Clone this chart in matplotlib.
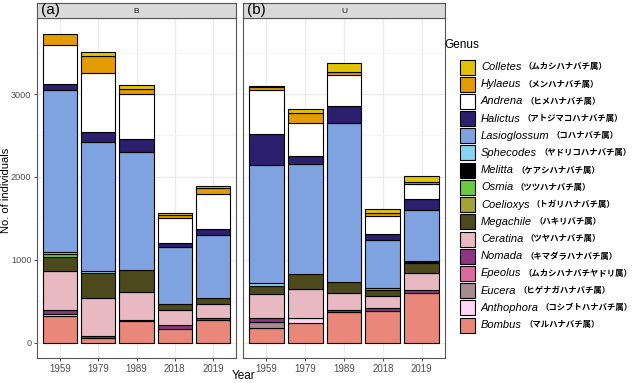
import matplotlib
matplotlib.use("Agg")
import matplotlib.pyplot as plt
from matplotlib.patches import Rectangle
import numpy as np

plt.rcParams['font.family'] = ['Liberation Sans', 'DejaVu Sans']

years = ['1959', '1979', '1989', '2018', '2019']
panels = ['B', 'U']
panel_tags = ['(a)', '(b)']

# counts per genus: [panel B values, panel U values], one value per year
bombus = [[325, 60, 255, 170, 275], [180, 240, 372, 384, 600]]
anthophora = [[25, 0, 0, 0, 0], [0, 55, 0, 0, 0]]
eucera = [[0, 0, 0, 0, 0], [72, 0, 0, 0, 0]]
epeolus = [[0, 0, 0, 0, 0], [0, 0, 0, 0, 0]]
nomada = [[40, 15, 20, 45, 25], [48, 0, 20, 36, 36]]
ceratina = [[470, 465, 337, 180, 168], [288, 350, 208, 144, 204]]
megachile = [[168, 300, 264, 72, 72], [96, 180, 132, 65, 120]]
coelioxys = [[0, 0, 0, 0, 0], [0, 0, 0, 0, 0]]
osmia = [[40, 0, 0, 0, 0], [0, 0, 0, 25, 0]]
melitta = [[0, 0, 0, 0, 0], [0, 0, 0, 0, 20]]
sphecodes = [[25, 25, 0, 0, 0], [35, 0, 0, 0, 0]]
lasioglossum = [[1953, 1559, 1428, 684, 756], [1429, 1335, 1920, 582, 616]]
halictus = [[80, 120, 156, 48, 72], [372, 96, 204, 72, 132]]
andrena = [[470, 708, 540, 300, 420], [528, 396, 372, 216, 192]]
hylaeus = [[130, 204, 60, 45, 72], [36, 120, 36, 36, 24]]
colletes = [[0, 48, 48, 25, 36], [12, 48, 108, 48, 72]]

# stacking order, bottom -> top
genera = ['Bombus', 'Anthophora', 'Eucera', 'Epeolus', 'Nomada', 'Ceratina',
          'Megachile', 'Coelioxys', 'Osmia', 'Melitta', 'Sphecodes',
          'Lasioglossum', 'Halictus', 'Andrena', 'Hylaeus', 'Colletes']
jp_names = ['（マルハナバチ属）', '（コシブトハナバチ属）', '（ヒゲナガハナバチ属）',
            '（ムカシハナバチヤドリ属）', '（キマダラハナバチ属）', '（ツヤハナバチ属）',
            '（ハキリバチ属）', '（トガリハナバチ属）', '（ツツハナバチ属）',
            '（ケアシハナバチ属）', '（ヤドリコハナバチ属）', '（コハナバチ属）',
            '（アトジマコハナバチ属）', '（ヒメハナバチ属）', '（メンハナバチ属）',
            '（ムカシハナバチ属）']
colours = ['#E8877A', '#FFD4F2', '#A88A92', '#DD6A9E', '#8C3583', '#E8B9C2',
           '#4C4A1C', '#A3A235', '#6ACB40', '#000000', '#88D3F0',
           '#7FA2E0', '#2C1F6E', '#FFFFFF', '#E39C00', '#E0C400']
series = [bombus, anthophora, eucera, epeolus, nomada, ceratina, megachile,
          coelioxys, osmia, melitta, sphecodes, lasioglossum, halictus,
          andrena, hylaeus, colletes]

W, H = 640, 383
fig = plt.figure(figsize=(6.4, 3.83), dpi=100)

panel_x = [(37, 236), (243, 445)]
p_bottom, p_top = 358, 18
strip_top = 3

x = np.arange(1, 6)
for p, (x0, x1) in enumerate(panel_x):
    ax = fig.add_axes([x0 / W, 1 - p_bottom / H, (x1 - x0) / W, (p_bottom - p_top) / H])
    bottom = np.zeros(5)
    for vals, col in zip(series, colours):
        v = np.array(vals[p], dtype=float)
        m = v > 0
        ax.bar(x[m], v[m], 0.9, bottom=bottom[m], color=col,
               edgecolor='black', linewidth=0.8, zorder=3)
        bottom += v
    ax.set_xlim(0.4, 5.6)
    ax.set_ylim(-186, 3918)
    ax.set_xticks(x)
    ax.set_xticklabels(years, fontsize=7, color='#4D4D4D')
    ax.set_yticks([0, 1000, 2000, 3000])
    ax.set_yticks([500, 1500, 2500, 3500], minor=True)
    ax.grid(True, which='major', color='#EBEBEB', linewidth=0.9, zorder=0)
    ax.grid(True, which='minor', axis='y', color='#F2F2F2', linewidth=0.5, zorder=0)
    ax.tick_params(axis='both', length=2.5, width=0.6, color='#333333', pad=1.5)
    ax.tick_params(axis='y', which='minor', length=0)
    if p == 0:
        ax.set_yticklabels(['0', '1000', '2000', '3000'], fontsize=6.6, color='#4D4D4D')
    else:
        ax.set_yticklabels([])
        ax.tick_params(axis='y', length=0)
    for s in ax.spines.values():
        s.set_color('#555555')
        s.set_linewidth(0.8)

    sax = fig.add_axes([x0 / W, 1 - p_top / H, (x1 - x0) / W, (p_top - strip_top) / H])
    sax.set_facecolor('#D9D9D9')
    sax.set_xticks([])
    sax.set_yticks([])
    for s in sax.spines.values():
        s.set_color('#555555')
        s.set_linewidth(0.8)
    sax.text(0.5, 0.45, panels[p], ha='center', va='center', fontsize=6,
             color='#1A1A1A', transform=sax.transAxes)
    fig.text((x0 + 4) / W, 1 - 10 / H, panel_tags[p], ha='left', va='center',
             fontsize=11, color='black')

fig.text(6.5 / W, 1 - 190 / H, 'No. of individuals', rotation=90,
         ha='center', va='center', fontsize=8)
fig.text(244 / W, 1 - 376 / H, 'Year', ha='center', va='center', fontsize=8.5)

# legend, top entry is the last genus in the stack
fig.text(444 / W, 1 - 45 / H, 'Genus', ha='left', va='center', fontsize=8.5)
renderer = fig.canvas.get_renderer()
for i, k in enumerate(range(len(genera) - 1, -1, -1)):
    yc = 67 + 17.2 * i
    fig.patches.append(Rectangle((460 / W, 1 - (yc + 7.5) / H), 15 / W, 15 / H,
                                 transform=fig.transFigure, facecolor=colours[k],
                                 edgecolor='black', linewidth=0.8))
    t = fig.text(481 / W, 1 - yc / H, genera[k], ha='left', va='center',
                 fontsize=8, style='italic')
    bb = t.get_window_extent(renderer)
    fig.text((bb.x1 + 2) / W, 1 - yc / H, jp_names[k], ha='left', va='center',
             fontsize=6, fontweight='bold', family=['Noto Sans CJK JP', 'DejaVu Sans'])

fig.savefig('out.png', dpi=100, facecolor='white')
